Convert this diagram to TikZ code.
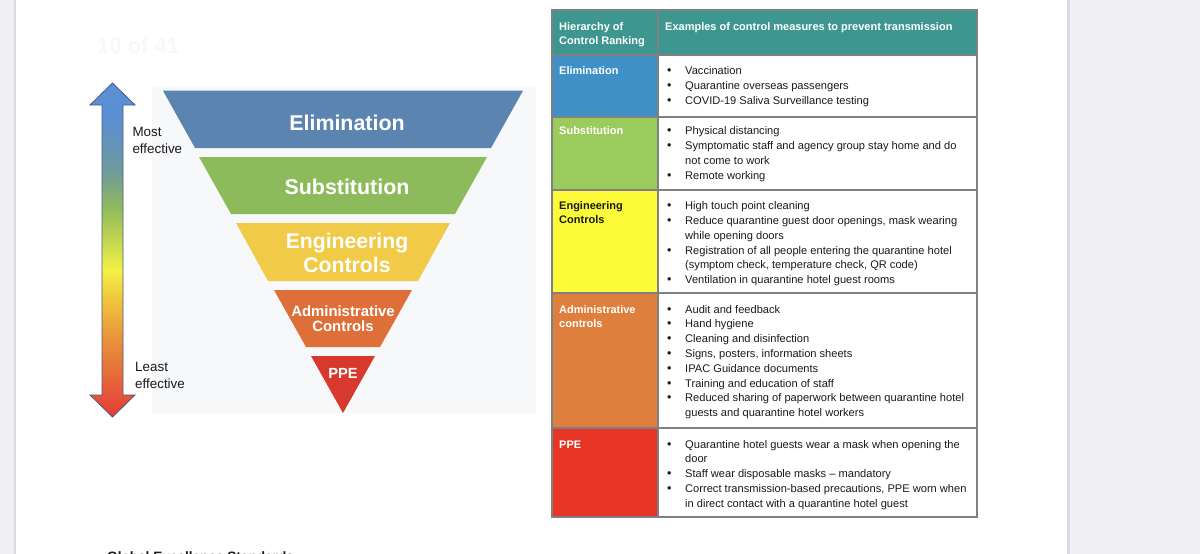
\documentclass[tikz,border=0pt]{standalone}
\usepackage{fontspec}
\setmainfont{Liberation Sans}
\definecolor{sidegray}{HTML}{EFEFF4}
\definecolor{sideedge}{HTML}{DADAE0}
\definecolor{picbg}{HTML}{F7F8FA}
\definecolor{pelim}{HTML}{5B84B1}
\definecolor{psubs}{HTML}{8DBB5B}
\definecolor{peng}{HTML}{F1CB48}
\definecolor{padm}{HTML}{DF6F38}
\definecolor{pppe}{HTML}{D8392F}
\definecolor{arrline}{HTML}{4A5A80}
\definecolor{thead}{HTML}{3E9690}
\definecolor{telim}{HTML}{3F90C7}
\definecolor{tsubs}{HTML}{9CCB5D}
\definecolor{teng}{HTML}{FBFB3A}
\definecolor{tadm}{HTML}{DE7F3D}
\definecolor{tppe}{HTML}{E73526}
\definecolor{tborder}{HTML}{808080}
\definecolor{faint}{HTML}{F8F8F8}
\definecolor{txtblack}{HTML}{1A1A1A}
\definecolor{g1}{HTML}{E33B30}
\definecolor{g2}{HTML}{E5553A}
\definecolor{g3}{HTML}{E9953B}
\definecolor{g4}{HTML}{F1C43E}
\definecolor{g5}{HTML}{F3F146}
\definecolor{g6}{HTML}{93BC5A}
\definecolor{g7}{HTML}{6E9A9C}
\definecolor{g8}{HTML}{5B8FD2}
\definecolor{g9}{HTML}{5B8FD8}
\pgfdeclareverticalshading{effshade}{100bp}{%
  color(0bp)=(g1);
  color(25bp)=(g1);
  color(28.3bp)=(g2);
  color(37bp)=(g3);
  color(42.5bp)=(g4);
  color(47bp)=(g5);
  color(56bp)=(g6);
  color(62bp)=(g7);
  color(69.5bp)=(g8);
  color(75bp)=(g9);
  color(100bp)=(g9)}
\newcommand\bitem[3]{\node[cell,anchor=base west] (#1) at (667,#2) {\makebox[18pt][l]{\fontsize{12.5}{13}\selectfont\textbullet}#3};}
\newcommand\citem[3]{\node[cell,anchor=base west] (#1) at (685,#2) {#3};}
\newcommand\rlab[4]{\node[labcell,text=#4,anchor=base west] (#1) at (559,#2) {#3};}
\begin{document}
\begin{tikzpicture}[x=1pt,y=-1pt,
  cell/.style={inner sep=0pt,font=\fontsize{11.1}{13}\selectfont,text=txtblack},
  labcell/.style={inner sep=0pt,font=\fontsize{11}{13}\selectfont\bfseries},
  ptext/.style={inner sep=0pt,text=white,font=\bfseries},
  side/.style={inner sep=0pt,font=\fontsize{13.4}{16}\selectfont,text=txtblack,anchor=base west},
  tline/.style={draw=tborder,line width=1.3pt}]
\useasboundingbox (0,0) rectangle (1200,554);
\clip (0,0) rectangle (1200,554);
\fill[white] (0,0) rectangle (1200,554);
% page edges
\fill[sidegray] (0,0) rectangle (14,554);
\fill[sideedge] (14,0) rectangle (16,554);
\fill[sideedge] (1067,0) rectangle (1070,554);
\fill[sidegray] (1070,0) rectangle (1200,554);
% faint page number
\node[inner sep=0pt,anchor=base west,text=faint,font=\fontsize{22}{24}\selectfont\bfseries] (pnum) at (97,53) {10 of 41};
% pyramid picture background
\fill[picbg] (152,87) rectangle (536,413);
% pyramid levels
\fill[pelim] (163,90.7) -- (523,90.7) -- (491,148) -- (195,148) -- cycle;
\fill[psubs] (199,157) -- (487,157) -- (455,214) -- (231,214) -- cycle;
\fill[peng] (236,223) -- (450,223) -- (418,281) -- (268,281) -- cycle;
\fill[padm] (274,290) -- (412,290) -- (380,347) -- (306,347) -- cycle;
\fill[pppe] (311,356) -- (375,356) -- (343,413) -- cycle;
\node[ptext,anchor=base,font=\fontsize{21.4}{24}\selectfont\bfseries] (pel) at (347,130) {Elimination};
\node[ptext,anchor=base,font=\fontsize{21.4}{24}\selectfont\bfseries] (psu) at (347,194) {Substitution};
\node[ptext,anchor=base,font=\fontsize{21.2}{24}\selectfont\bfseries] (pen1) at (347,248.3) {Engineering};
\node[ptext,anchor=base,font=\fontsize{21.2}{24}\selectfont\bfseries] (pen2) at (347,272.7) {Controls};
\node[ptext,anchor=base,font=\fontsize{14.9}{16}\selectfont\bfseries] (pad1) at (343,316.7) {Administrative};
\node[ptext,anchor=base,font=\fontsize{14.9}{16}\selectfont\bfseries] (pad2) at (343,331.7) {Controls};
\node[ptext,anchor=base,font=\fontsize{14.7}{16}\selectfont\bfseries] (pppe) at (343,378.3) {PPE};
% effectiveness arrow
\shadedraw[shading=effshade,draw=arrline,line width=0.8pt,line join=miter]
  (112.5,83) -- (135,105) -- (123,105) -- (123,395) -- (135,395) -- (112.5,417)
  -- (90,395) -- (102,395) -- (102,105) -- (90,105) -- cycle;
\node[side] (most) at (132.3,136) {Most};
\node[side] (most2) at (132.3,153.3) {effective};
\node[side] (least) at (135,371.7) {Least};
\node[side] (least2) at (135,388.7) {effective};
% table fills
\fill[thead] (552,10) rectangle (977,55);
\fill[telim] (552,55) rectangle (658,117);
\fill[tsubs] (552,117) rectangle (658,190);
\fill[teng] (552,190) rectangle (658,293);
\fill[tadm] (552,293) rectangle (658,428);
\fill[tppe] (552,428) rectangle (658,517);
% table lines
\draw[tline] (552,10) rectangle (977,517);
\draw[tline] (658,10) -- (658,517);
\foreach \yy in {55,117,190,293,428} {\draw[tline] (552,\yy) -- (977,\yy);}
% header
\rlab{h1}{30}{Hierarchy of}{white}
\rlab{h2}{44}{Control Ranking}{white}
\node[labcell,text=white,anchor=base west] (h3) at (665,30) {Examples of control measures to prevent transmission};
% row labels
\rlab{r1}{74.5}{Elimination}{white}
\rlab{r2}{134.5}{Substitution}{white}
\rlab{r3a}{209}{Engineering}{txtblack}
\rlab{r3b}{223}{Controls}{txtblack}
\rlab{r4a}{313}{Administrative}{white}
\rlab{r4b}{327}{controls}{white}
\rlab{r5}{448}{PPE}{white}
% Elimination
\bitem{e1}{74.7}{Vaccination}
\bitem{e2}{89.5}{Quarantine overseas passengers}
\bitem{e3}{104.3}{COVID-19 Saliva Surveillance testing}
% Substitution
\bitem{s1}{134.7}{Physical distancing}
\bitem{s2}{149.5}{Symptomatic staff and agency group stay home and do}
\citem{s2b}{164.3}{not come to work}
\bitem{s3}{179.1}{Remote working}
% Engineering
\bitem{gg1}{209.7}{High touch point cleaning}
\bitem{gg2}{224.5}{Reduce quarantine guest door openings, mask wearing}
\citem{gg2b}{239.3}{while opening doors}
\bitem{gg3}{254.1}{Registration of all people entering the quarantine hotel}
\citem{gg3b}{268.9}{(symptom check, temperature check, QR code)}
\bitem{gg4}{283.7}{Ventilation in quarantine hotel guest rooms}
% Administrative
\bitem{a1}{313}{Audit and feedback}
\bitem{a2}{327.8}{Hand hygiene}
\bitem{a3}{342.6}{Cleaning and disinfection}
\bitem{a4}{357.4}{Signs, posters, information sheets}
\bitem{a5}{372.2}{IPAC Guidance documents}
\bitem{a6}{387}{Training and education of staff}
\bitem{a7}{401.8}{Reduced sharing of paperwork between quarantine hotel}
\citem{a7b}{416.6}{guests and quarantine hotel workers}
% PPE
\bitem{p1}{448}{Quarantine hotel guests wear a mask when opening the}
\citem{p1b}{462.8}{door}
\bitem{p2}{477.6}{Staff wear disposable masks -- mandatory}
\bitem{p3}{492.4}{Correct transmission-based precautions, PPE worn when}
\citem{p3b}{507.2}{in direct contact with a quarantine hotel guest}
% cut-off heading at the bottom
\node[inner sep=0pt,anchor=base west,text=txtblack,font=\fontsize{13.6}{16}\selectfont\bfseries] (foot) at (107,561) {Global Excellence Standards};
\end{tikzpicture}
\end{document}
